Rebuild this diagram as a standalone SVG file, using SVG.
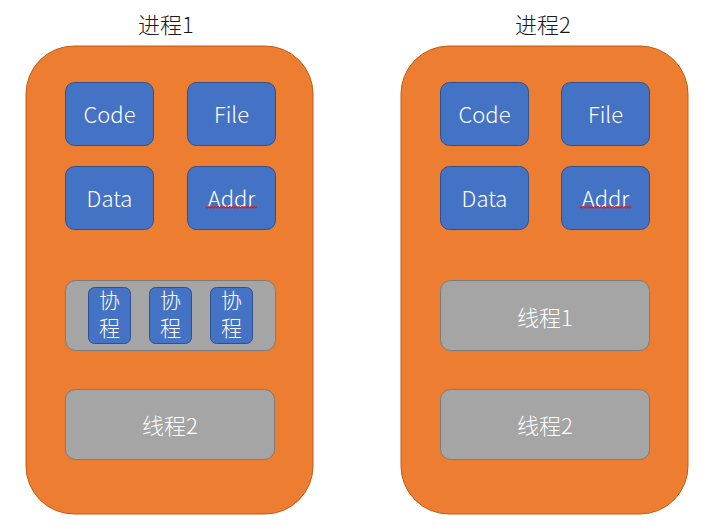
<svg xmlns="http://www.w3.org/2000/svg" width="704" height="526" viewBox="0 0 704 526">
<style>
.proc{fill:#ED7D31;stroke:#C55A11;stroke-width:1}
.blue{fill:#4472C4;stroke:#2F528F;stroke-width:1}
.gray{fill:#A5A5A5;stroke:#7B7B7B;stroke-width:1}
.t{font-family:"Noto Sans CJK SC","Liberation Sans",sans-serif;font-size:22px;font-weight:300;fill:#FFFFFF;text-anchor:middle;dominant-baseline:central}
.co{font-family:"Noto Sans CJK SC","Liberation Sans",sans-serif;font-size:21px;font-weight:300;fill:#FFFFFF;text-anchor:middle}
.title{font-family:"Noto Sans CJK SC","Liberation Sans",sans-serif;font-size:22px;font-weight:300;fill:#1a1a1a;text-anchor:middle;dominant-baseline:central}
.sq{fill:none;stroke:#E81818;stroke-width:1.2}
</style>
<rect width="704" height="526" fill="#FFFFFF"/>
<g id="process1">
<text class="title" x="166" y="23">进程1</text>
<rect class="proc" x="26" y="46" width="287" height="468" rx="48" ry="48"/>
</g>
<g id="p1-code"><rect class="blue" x="65.5" y="82.5" width="88" height="63" rx="9"/><text class="t" x="109.5" y="112.5">Code</text></g>
<g id="p1-file"><rect class="blue" x="187.5" y="82.5" width="88" height="63" rx="9"/><text class="t" x="231.5" y="112.5">File</text></g>
<g id="p1-data"><rect class="blue" x="65.5" y="166.5" width="88" height="63" rx="9"/><text class="t" x="109.5" y="196.5">Data</text></g>
<g id="p1-addr"><rect class="blue" x="187.5" y="166.5" width="88" height="63" rx="9"/><text class="t" x="231.5" y="196.5">Addr</text>
<path class="sq" d="M206 206.5 l1.5 1.5 l1.5 -1.5 l1.5 1.5 l1.5 -1.5 l1.5 1.5 l1.5 -1.5 l1.5 1.5 l1.5 -1.5 l1.5 1.5 l1.5 -1.5 l1.5 1.5 l1.5 -1.5 l1.5 1.5 l1.5 -1.5 l1.5 1.5 l1.5 -1.5 l1.5 1.5 l1.5 -1.5 l1.5 1.5 l1.5 -1.5 l1.5 1.5 l1.5 -1.5 l1.5 1.5 l1.5 -1.5 l1.5 1.5 l1.5 -1.5 l1.5 1.5 l1.5 -1.5 l1.5 1.5 l1.5 -1.5 l1.5 1.5 l1.5 -1.5 l1.5 1.5 l1.5 -1.5"/></g>
<g id="p1-thread1"><rect class="gray" x="65.5" y="280.5" width="210" height="70" rx="10"/></g>
<g id="p1-co1"><rect class="blue" x="88.5" y="287.5" width="42" height="56" rx="6"/><text class="co" x="109.5" y="308">协<tspan x="109.5" dy="28">程</tspan></text></g>
<g id="p1-co2"><rect class="blue" x="149.5" y="287.5" width="42" height="56" rx="6"/><text class="co" x="170.5" y="308">协<tspan x="170.5" dy="28">程</tspan></text></g>
<g id="p1-co3"><rect class="blue" x="210.5" y="287.5" width="42" height="56" rx="6"/><text class="co" x="231.5" y="308">协<tspan x="231.5" dy="28">程</tspan></text></g>
<g id="p1-thread2"><rect class="gray" x="65.5" y="389.5" width="209" height="70" rx="10"/><text class="t" x="170" y="423.5">线程2</text></g>

<g id="process2">
<text class="title" x="543" y="23">进程2</text>
<rect class="proc" x="401" y="46" width="287" height="468" rx="48" ry="48"/>
</g>
<g id="p2-code"><rect class="blue" x="440.5" y="82.5" width="88" height="63" rx="9"/><text class="t" x="484.5" y="112.5">Code</text></g>
<g id="p2-file"><rect class="blue" x="561.5" y="82.5" width="88" height="63" rx="9"/><text class="t" x="605.5" y="112.5">File</text></g>
<g id="p2-data"><rect class="blue" x="440.5" y="166.5" width="88" height="63" rx="9"/><text class="t" x="484.5" y="196.5">Data</text></g>
<g id="p2-addr"><rect class="blue" x="561.5" y="166.5" width="88" height="63" rx="9"/><text class="t" x="605.5" y="196.5">Addr</text>
<path class="sq" d="M580 206.5 l1.5 1.5 l1.5 -1.5 l1.5 1.5 l1.5 -1.5 l1.5 1.5 l1.5 -1.5 l1.5 1.5 l1.5 -1.5 l1.5 1.5 l1.5 -1.5 l1.5 1.5 l1.5 -1.5 l1.5 1.5 l1.5 -1.5 l1.5 1.5 l1.5 -1.5 l1.5 1.5 l1.5 -1.5 l1.5 1.5 l1.5 -1.5 l1.5 1.5 l1.5 -1.5 l1.5 1.5 l1.5 -1.5 l1.5 1.5 l1.5 -1.5 l1.5 1.5 l1.5 -1.5 l1.5 1.5 l1.5 -1.5 l1.5 1.5 l1.5 -1.5 l1.5 1.5 l1.5 -1.5"/></g>
<g id="p2-thread1"><rect class="gray" x="440.5" y="280.5" width="209" height="70" rx="10"/><text class="t" x="545" y="315.5">线程1</text></g>
<g id="p2-thread2"><rect class="gray" x="440.5" y="389.5" width="209" height="70" rx="10"/><text class="t" x="545" y="423.5">线程2</text></g>
<g id="connectors"></g>
</svg>
